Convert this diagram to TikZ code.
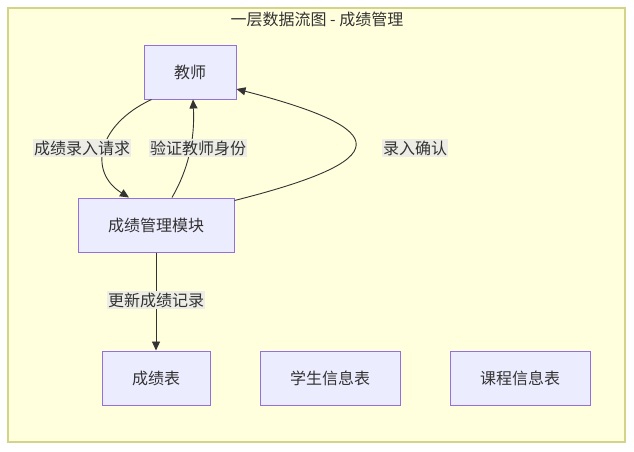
\documentclass[tikz,border=0pt]{standalone}
\usepackage{fontspec}
\setmainfont{Noto Sans CJK SC}
\usetikzlibrary{arrows.meta}
\definecolor{bgyellow}{HTML}{FFFFDE}
\definecolor{frameyellow}{HTML}{D4D488}
\definecolor{nodefill}{HTML}{ECECFF}
\definecolor{nodedraw}{HTML}{9370DB}
\definecolor{txt}{HTML}{333333}
\definecolor{lblbg}{HTML}{EDEDE6}
\tikzset{
  proc/.style={draw=nodedraw, fill=nodefill, line width=1pt, minimum height=54pt,
    inner sep=0pt, text=txt, font=\fontsize{16}{19}\selectfont},
  lbl/.style={fill=lblbg, inner xsep=1pt, inner ysep=2pt, text=txt,
    font=\fontsize{16}{19}\selectfont},
  flow/.style={draw=txt, line width=0.9pt, -{Triangle[length=9pt,width=8pt]}},
}
\begin{document}
\begin{tikzpicture}[x=1pt,y=-1pt]
\useasboundingbox (0,0) rectangle (634,451);
\fill[white] (0,0) rectangle (634,451);
\draw[fill=bgyellow, draw=frameyellow, line width=1.6pt] (8,8) rectangle (625,442);
\node[text=txt, font=\fontsize{16}{19}\selectfont] (title) at (317,19) {一层数据流图 - 成绩管理};

\node[proc, minimum width=92pt] (teacher) at (190,72) {教师};
\node[proc, minimum width=156pt] (module) at (156,225) {成绩管理模块};
\node[proc, minimum width=108pt] (grades) at (156,378) {成绩表};
\node[proc, minimum width=140pt] (students) at (330,378) {学生信息表};
\node[proc, minimum width=140pt] (courses) at (520,378) {课程信息表};

\draw[flow] ([xshift=8pt]teacher.south west) .. controls (97,125) and (88,172) .. ([xshift=-27pt]module.north);
\draw[flow] ([xshift=16pt]module.north) .. controls (188,170) and (195,140) .. ([xshift=3pt]teacher.south);
\draw[flow] ([yshift=-3pt]module.north east) .. controls (395,160) and (395,130) .. ([yshift=-17pt]teacher.east);
\draw[flow] (module.south) -- (grades.north);

\node[lbl] (l1) at (82,148) {成绩录入请求};
\node[lbl] (l2) at (198,148) {验证教师身份};
\node[lbl] (l3) at (415,148) {录入确认};
\node[lbl] (l4) at (156,300) {更新成绩记录};
\end{tikzpicture}
\end{document}
